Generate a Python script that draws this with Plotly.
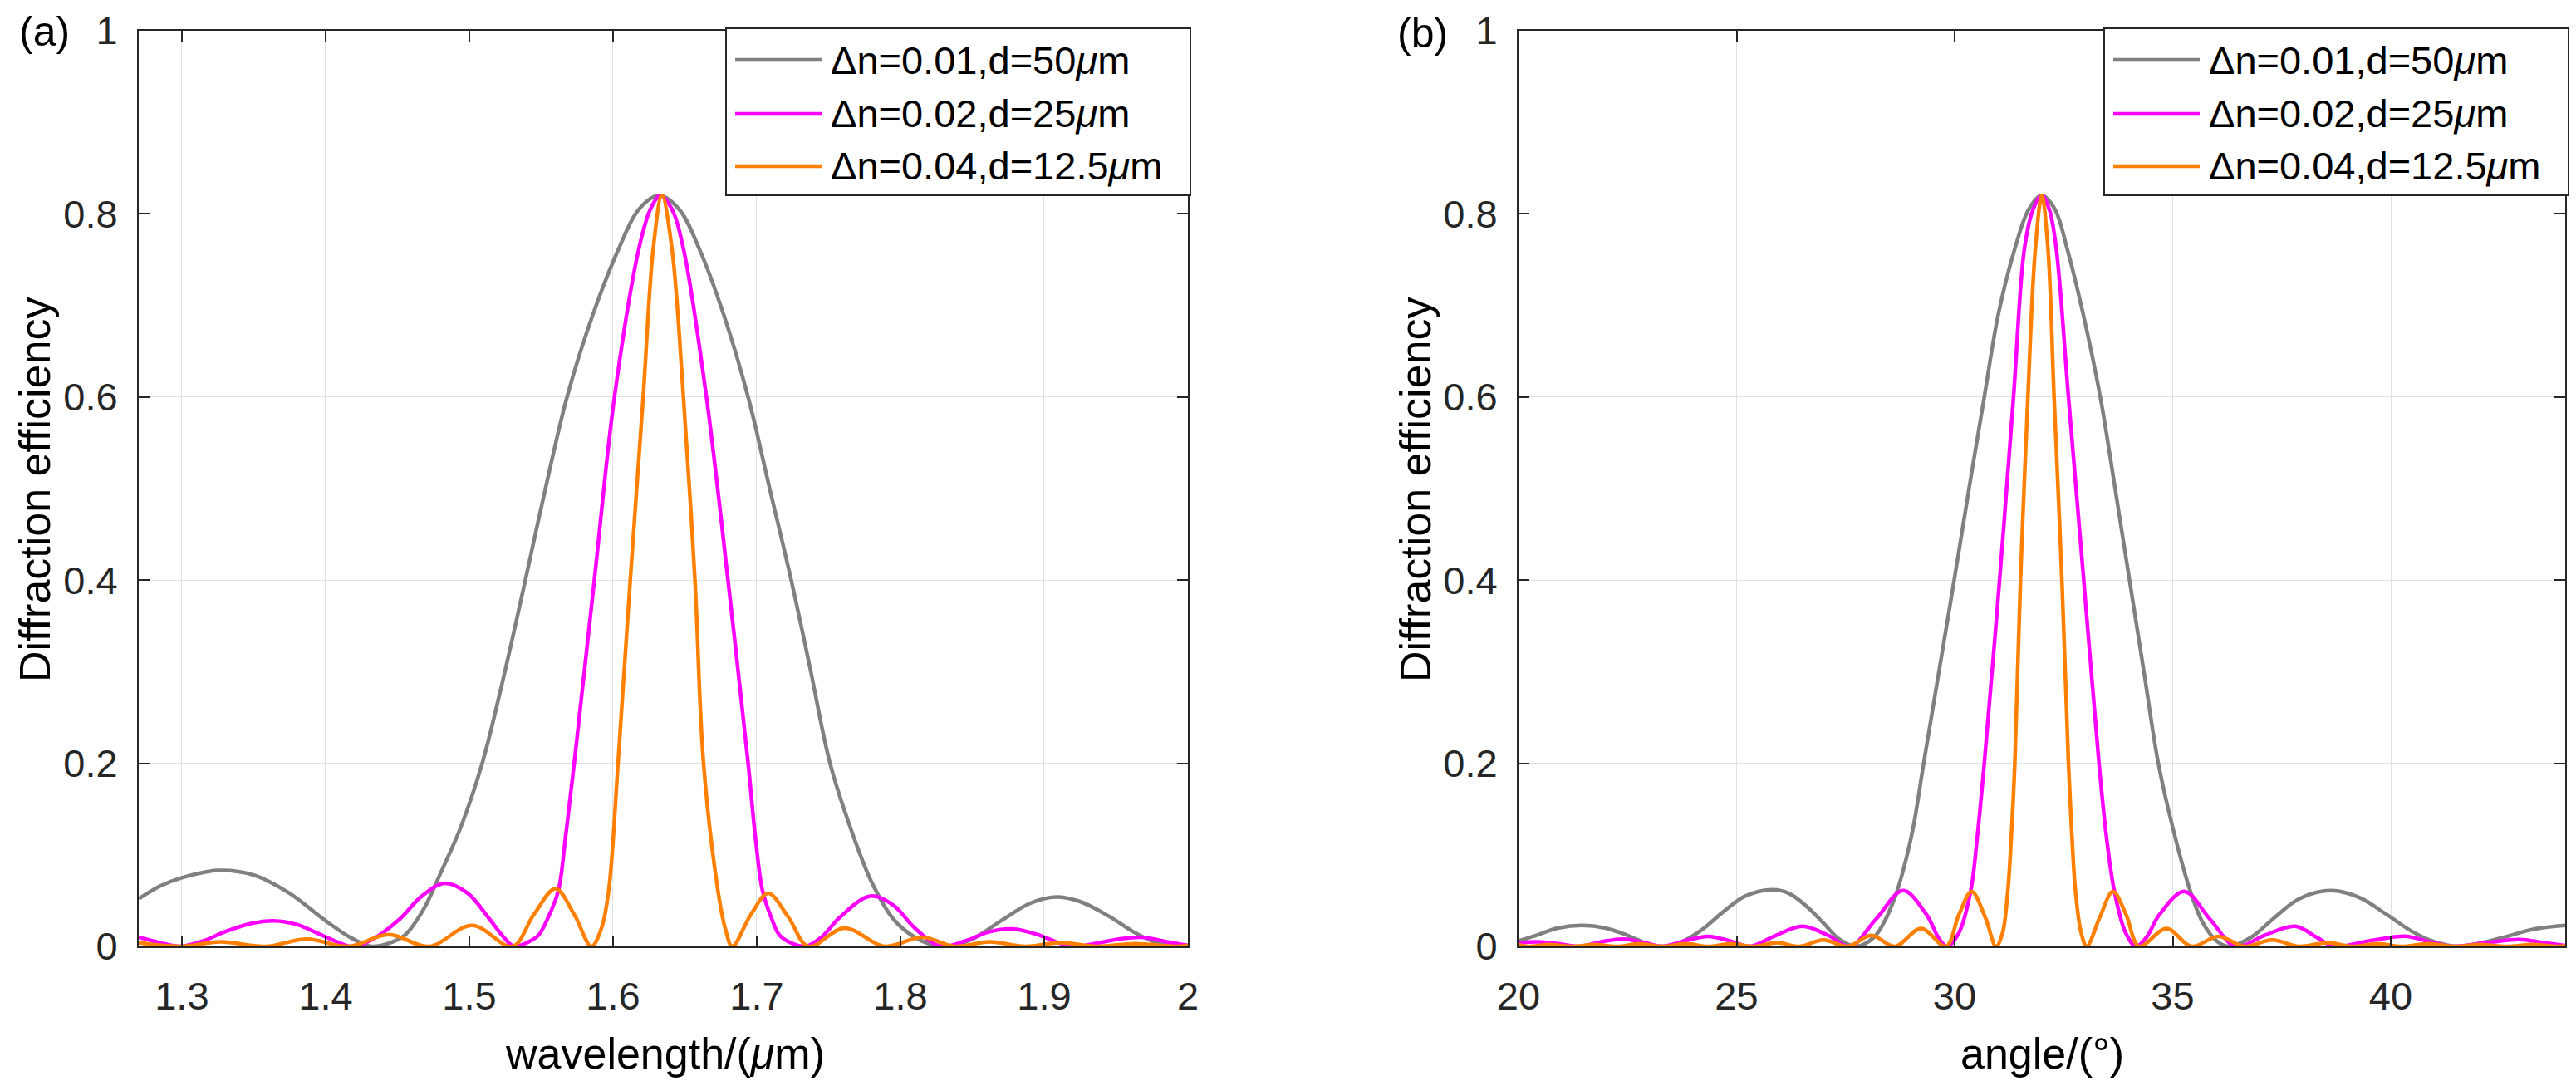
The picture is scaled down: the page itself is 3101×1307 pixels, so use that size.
import plotly.graph_objects as go

# Page: the browser body keeps its 8px default margin, so the figure is the window minus 16px
W, H = 3085, 1291
INK = "#262626"
GRID = "#E0E0E0"
FONT = "Arial, Liberation Sans, sans-serif"

series_names = ["Δn=0.01,d=50<i>μ</i>m", "Δn=0.02,d=25<i>μ</i>m", "Δn=0.04,d=12.5<i>μ</i>m"]
series_colors = ["#808080", "#FF00FF", "#FF8000"]

# (a) efficiency vs wavelength (um)
wl_gray_x = [1.270, 1.285, 1.300, 1.325, 1.350, 1.375, 1.400, 1.418, 1.432, 1.445,
             1.455, 1.468, 1.480, 1.494, 1.509, 1.524, 1.539, 1.553, 1.568, 1.586,
             1.604, 1.618, 1.632, 1.646, 1.660, 1.677, 1.694, 1.709, 1.724, 1.737,
             1.751, 1.766, 1.780, 1.795, 1.810, 1.822, 1.833, 1.850, 1.870, 1.890,
             1.908, 1.925, 1.945, 1.962, 1.978, 1.990, 2.000]
wl_gray_y = [0.052, 0.066, 0.075, 0.083, 0.078, 0.058, 0.028, 0.009, 0.000, 0.004,
             0.012, 0.040, 0.080, 0.130, 0.200, 0.295, 0.400, 0.500, 0.600, 0.690,
             0.762, 0.805, 0.820, 0.805, 0.762, 0.690, 0.600, 0.500, 0.400, 0.305,
             0.200, 0.126, 0.070, 0.030, 0.010, 0.002, 0.000, 0.008, 0.028, 0.047,
             0.054, 0.049, 0.033, 0.016, 0.004, 0.001, 0.001]

wl_mag_x = [1.270, 1.285, 1.299, 1.315, 1.330, 1.348, 1.364, 1.380, 1.395, 1.408,
            1.418, 1.432, 1.451, 1.467, 1.483, 1.499, 1.513, 1.524, 1.531, 1.540,
            1.548, 1.555, 1.562, 1.567, 1.573, 1.587, 1.601, 1.618, 1.626, 1.633,
            1.641, 1.649, 1.665, 1.680, 1.694, 1.699, 1.704, 1.710, 1.716, 1.725,
            1.734, 1.745, 1.758, 1.779, 1.795, 1.810, 1.828, 1.845, 1.862, 1.878,
            1.895, 1.910, 1.921, 1.935, 1.952, 1.968, 1.985, 2.000]
wl_mag_y = [0.010, 0.004, 0.000, 0.006, 0.016, 0.025, 0.028, 0.024, 0.014, 0.005,
            0.000, 0.007, 0.029, 0.055, 0.069, 0.058, 0.032, 0.010, 0.000, 0.004,
            0.012, 0.032, 0.061, 0.120, 0.200, 0.400, 0.600, 0.762, 0.805, 0.820,
            0.805, 0.762, 0.600, 0.400, 0.200, 0.120, 0.061, 0.032, 0.012, 0.003,
            0.000, 0.010, 0.032, 0.055, 0.045, 0.020, 0.000, 0.006, 0.016, 0.019,
            0.013, 0.004, 0.000, 0.003, 0.008, 0.010, 0.005, 0.001]

wl_org_x = [1.270, 1.299, 1.327, 1.358, 1.387, 1.416, 1.444, 1.472, 1.502, 1.530,
            1.545, 1.560, 1.573, 1.585, 1.592, 1.597, 1.6035, 1.612, 1.621, 1.628,
            1.634, 1.641, 1.649, 1.657, 1.663, 1.673, 1.678, 1.683, 1.696, 1.708,
            1.722, 1.736, 1.761, 1.789, 1.815, 1.838, 1.862, 1.887, 1.911, 1.937,
            1.963, 1.991, 2.000]
wl_org_y = [0.004, 0.000, 0.005, 0.000, 0.008, 0.000, 0.013, 0.000, 0.023, 0.000,
            0.035, 0.063, 0.035, 0.000, 0.020, 0.061, 0.200, 0.400, 0.600, 0.762,
            0.820, 0.762, 0.600, 0.400, 0.200, 0.061, 0.020, 0.000, 0.035, 0.058,
            0.032, 0.000, 0.020, 0.000, 0.010, 0.000, 0.005, 0.000, 0.004, 0.000,
            0.003, 0.000, 0.001]

# (b) efficiency vs incidence angle (deg)
ang_gray_x = [20.0, 20.4, 20.9, 21.46, 22.0, 22.5, 22.9, 23.29, 23.7, 24.2,
              24.7, 25.2, 25.82, 26.2, 26.6, 27.0, 27.35, 27.74, 28.15, 28.4,
              28.64, 28.82, 29.05, 29.29, 29.64, 29.99, 30.33, 30.68, 31.0, 31.38,
              31.7, 32.0, 32.3, 32.58, 32.95, 33.34, 33.68, 34.01, 34.34, 34.67,
              35.0, 35.4, 35.7, 36.03, 36.3, 36.8, 37.3, 37.9, 38.64, 39.3,
              39.9, 40.5, 41.0, 41.5, 42.0, 42.6, 43.3, 44.0]
ang_gray_y = [0.006, 0.012, 0.020, 0.023, 0.020, 0.012, 0.004, 0.000, 0.004, 0.018,
              0.038, 0.055, 0.062, 0.058, 0.044, 0.025, 0.008, 0.000, 0.010, 0.028,
              0.055, 0.083, 0.130, 0.200, 0.300, 0.400, 0.500, 0.600, 0.690, 0.762,
              0.805, 0.820, 0.805, 0.762, 0.690, 0.600, 0.500, 0.400, 0.300, 0.200,
              0.130, 0.061, 0.025, 0.005, 0.000, 0.010, 0.030, 0.052, 0.061, 0.053,
              0.035, 0.016, 0.005, 0.000, 0.003, 0.010, 0.019, 0.023]

ang_mag_x = [20.0, 20.45, 20.9, 21.4, 21.9, 22.41, 22.9, 23.3, 23.8, 24.35,
             24.85, 25.3, 25.9, 26.51, 27.1, 27.6, 28.2, 28.82, 29.35, 29.65,
             29.83, 30.1, 30.37, 30.52, 30.68, 31.03, 31.35, 31.6, 31.8, 32.0,
             32.17, 32.33, 32.61, 32.96, 33.31, 33.48, 33.66, 33.92, 34.16, 34.4,
             34.7, 35.27, 35.85, 36.45, 37.1, 37.81, 38.3, 38.7, 39.5, 40.36,
             40.9, 41.43, 42.2, 42.95, 43.5, 44.0]
ang_mag_y = [0.004, 0.005, 0.003, 0.000, 0.005, 0.008, 0.004, 0.000, 0.006, 0.011,
             0.006, 0.000, 0.012, 0.022, 0.012, 0.000, 0.030, 0.061, 0.035, 0.008,
             0.000, 0.015, 0.061, 0.120, 0.200, 0.400, 0.600, 0.762, 0.805, 0.820,
             0.805, 0.762, 0.600, 0.400, 0.200, 0.120, 0.061, 0.015, 0.000, 0.010,
             0.035, 0.060, 0.030, 0.000, 0.012, 0.022, 0.010, 0.000, 0.006, 0.011,
             0.005, 0.000, 0.004, 0.0075, 0.004, 0.001]

ang_org_x = [20.0, 20.2, 20.72, 21.23, 21.75, 22.27, 22.78, 23.3, 23.82, 24.35,
             24.87, 25.4, 25.93, 26.45, 26.99, 27.55, 28.09, 28.63, 29.23, 29.8,
             30.1, 30.39, 30.7, 30.95, 31.1, 31.22, 31.3, 31.38, 31.51, 31.68,
             31.85, 32.0, 32.14, 32.28, 32.46, 32.61, 32.69, 32.77, 32.9, 33.03,
             33.33, 33.63, 33.93, 34.23, 34.86, 35.43, 36.05, 36.65, 37.28, 37.9,
             38.55, 39.1, 39.7, 40.25, 40.85, 41.45, 42.05, 42.65, 43.25, 43.85,
             44.0]
ang_org_y = [0.002, 0.000, 0.002, 0.000, 0.002, 0.000, 0.003, 0.000, 0.003, 0.000,
             0.003, 0.000, 0.004, 0.000, 0.007, 0.000, 0.012, 0.000, 0.0195, 0.000,
             0.035, 0.060, 0.032, 0.000, 0.015, 0.061, 0.120, 0.200, 0.400, 0.600,
             0.762, 0.820, 0.762, 0.600, 0.400, 0.200, 0.120, 0.061, 0.015, 0.000,
             0.032, 0.060, 0.035, 0.000, 0.0195, 0.000, 0.011, 0.000, 0.007, 0.000,
             0.004, 0.000, 0.003, 0.000, 0.003, 0.000, 0.002, 0.000, 0.002, 0.000,
             0.001]


def px(x):
    return x / W


def py(y):
    return 1 - y / H


fig = go.Figure()

panels = [
    ("x", "y", [(wl_gray_x, wl_gray_y), (wl_mag_x, wl_mag_y), (wl_org_x, wl_org_y)]),
    ("x2", "y2", [(ang_gray_x, ang_gray_y), (ang_mag_x, ang_mag_y), (ang_org_x, ang_org_y)]),
]
for xa, ya, curves in panels:
    for (xs, ys), color, name in zip(curves, series_colors, series_names):
        fig.add_trace(go.Scatter(
            x=xs, y=ys, mode="lines", name=name, showlegend=False,
            line=dict(color=color, width=4.5, shape="spline", smoothing=1.0),
            xaxis=xa, yaxis=ya,
        ))

axis_common = dict(
    showline=True, linecolor=INK, linewidth=2, mirror="ticks",
    ticks="inside", ticklen=13, tickwidth=2, tickcolor=INK,
    showgrid=True, gridcolor=GRID, gridwidth=1, zeroline=False,
    automargin=False,
    tickfont=dict(size=47, color=INK, family=FONT),
)
y_dom = [py(1131), py(29)]

fig.update_layout(
    width=W, height=H,
    margin=dict(l=0, r=0, t=0, b=0, autoexpand=False),
    paper_bgcolor="white", plot_bgcolor="white",
    font=dict(family=FONT, color=INK),
    xaxis=dict(domain=[px(159), px(1422)], range=[1.27, 2.0], dtick=0.1, anchor="y",
               ticklabelstandoff=18, **axis_common),
    yaxis=dict(domain=y_dom, range=[0, 1], dtick=0.2, anchor="x",
               ticklabelstandoff=14, **axis_common),
    xaxis2=dict(domain=[px(1820), px(3080)], range=[20, 44], dtick=5, anchor="y2",
                ticklabelstandoff=18, **axis_common),
    yaxis2=dict(domain=y_dom, range=[0, 1], dtick=0.2, anchor="x2",
                ticklabelstandoff=14, **axis_common),
)

# Axis titles and panel tags
texts = [
    ("(a)", 45, 30, 0, 50),
    ("(b)", 1704, 32, 0, 50),
    ("Diffraction efficiency", 34, 582, -90, 52),
    ("Diffraction efficiency", 1696, 582, -90, 52),
    ("wavelength/(<i>μ</i>m)", 792, 1260, 0, 52),
    ("angle/(°)", 2450, 1260, 0, 52),
]
for txt, x, y, ang, size in texts:
    fig.add_annotation(text=txt, x=px(x), y=py(y), xref="paper", yref="paper",
                       xanchor="center", yanchor="middle", textangle=ang, showarrow=False,
                       font=dict(size=size, color="black", family=FONT))

# MATLAB style legend boxes (top right of each panel)
for left in (866, 2525):
    fig.add_shape(type="rect", xref="paper", yref="paper",
                  x0=px(left), x1=px(left + 559), y0=py(227), y1=py(26),
                  fillcolor="white", line=dict(color=INK, width=2))
    for row_y, color, name in zip((64, 129, 192), series_colors, series_names):
        fig.add_shape(type="line", xref="paper", yref="paper",
                      x0=px(left + 11), x1=px(left + 115), y0=py(row_y), y1=py(row_y),
                      line=dict(color=color, width=4.5))
        fig.add_annotation(text=name, x=px(left + 124), y=py(row_y), xref="paper", yref="paper",
                           xanchor="left", yanchor="middle", showarrow=False,
                           font=dict(size=47, color="black", family=FONT))

fig.write_html("out.html")
